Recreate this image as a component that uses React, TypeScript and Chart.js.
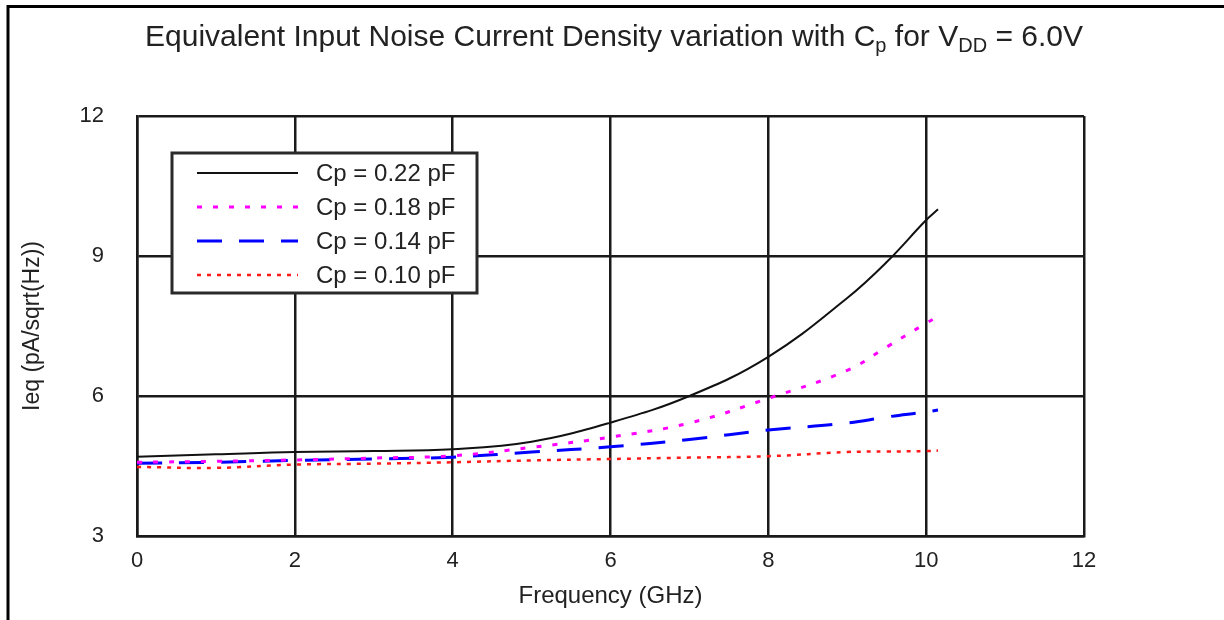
import React, { useEffect, useRef } from "react";
import { Chart, registerables } from "chart.js";

Chart.register(...registerables);

const FONT = "'Liberation Sans', Arial, Helvetica, sans-serif";

// Frequency (GHz) sample points
const freqGHz = [0, 1, 2, 3, 4, 5, 6, 7, 8, 9, 9.5, 10, 10.15];
// Ieq (pA/sqrt(Hz)) for each Cp
const cp022 = [4.7, 4.75, 4.8, 4.82, 4.86, 5.02, 5.43, 6.0, 6.84, 8.1, 8.87, 9.77, 10.0];
const cp018 = [4.58, 4.6, 4.63, 4.67, 4.72, 4.9, 5.12, 5.42, 5.95, 6.55, 7.05, 7.56, 7.7];
const cp014 = [4.56, 4.58, 4.62, 4.65, 4.69, 4.8, 4.91, 5.07, 5.27, 5.42, 5.55, 5.66, 5.7];
const cp010 = [4.48, 4.46, 4.53, 4.55, 4.58, 4.62, 4.65, 4.68, 4.71, 4.8, 4.81, 4.82, 4.83];

const seriesLabels = ["Cp = 0.22 pF", "Cp = 0.18 pF", "Cp = 0.14 pF", "Cp = 0.10 pF"];
const xTicks = [0, 2, 4, 6, 8, 10, 12];
const yTicks = [3, 6, 9, 12];

const toPoints = (ys: number[]) => freqGHz.map((x, i) => ({ x, y: ys[i] }));

const framePlugin = {
  id: "frame",
  beforeDraw(chart: any) {
    const ctx = chart.ctx;
    ctx.save();
    ctx.fillStyle = "#fff";
    ctx.fillRect(0, 0, chart.width, chart.height);
    ctx.strokeStyle = "#000";
    ctx.lineWidth = 3;
    ctx.beginPath();
    ctx.moveTo(8, chart.height + 5);
    ctx.lineTo(8, 6.5);
    ctx.lineTo(chart.width + 5, 6.5);
    ctx.stroke();
    ctx.restore();
  },
};

const titlePlugin = {
  id: "richTitle",
  afterDraw(chart: any) {
    const ctx = chart.ctx;
    const size = 30;
    const sub = 20;
    const parts: [string, boolean][] = [
      ["Equivalent Input Noise Current Density variation with C", false],
      ["p", true],
      [" for V", false],
      ["DD", true],
      [" = 6.0V", false],
    ];
    ctx.save();
    ctx.fillStyle = "#222";
    ctx.textBaseline = "alphabetic";
    ctx.textAlign = "left";
    let total = 0;
    const widths = parts.map(([t, s]) => {
      ctx.font = `${s ? sub : size}px ${FONT}`;
      const w = ctx.measureText(t).width;
      total += w;
      return w;
    });
    let x = 614 - total / 2;
    const base = 46;
    parts.forEach(([t, s], i) => {
      ctx.font = `${s ? sub : size}px ${FONT}`;
      ctx.fillText(t, x, s ? base + 6 : base);
      x += widths[i];
    });
    ctx.restore();
  },
};

const legendPlugin = {
  id: "boxLegend",
  afterDraw(chart: any) {
    const ctx = chart.ctx;
    const bx = 172, by = 153, bw = 305, bh = 140;
    ctx.save();
    ctx.fillStyle = "#fff";
    ctx.fillRect(bx, by, bw, bh);
    ctx.strokeStyle = "#2a2a2a";
    ctx.lineWidth = 3;
    ctx.strokeRect(bx, by, bw, bh);
    chart.data.datasets.forEach((ds: any, i: number) => {
      const y = 173 + i * 34;
      ctx.beginPath();
      ctx.strokeStyle = ds.borderColor;
      ctx.lineWidth = ds.borderWidth;
      ctx.setLineDash(ds.borderDash || []);
      ctx.moveTo(197, y);
      ctx.lineTo(298, y);
      ctx.stroke();
      ctx.setLineDash([]);
      ctx.fillStyle = "#222";
      ctx.font = `24px ${FONT}`;
      ctx.textBaseline = "middle";
      ctx.textAlign = "left";
      ctx.fillText(ds.label, 316, y + 1);
    });
    ctx.restore();
  },
};

export default function App() {
  const ref = useRef<HTMLCanvasElement | null>(null);

  useEffect(() => {
    if (!ref.current) return;
    const chart = new Chart(ref.current, {
      type: "line",
      data: {
        datasets: [
          {
            label: seriesLabels[0],
            data: toPoints(cp022),
            borderColor: "#111111",
            borderWidth: 2,
            borderDash: [],
          },
          {
            label: seriesLabels[1],
            data: toPoints(cp018),
            borderColor: "#ff00ff",
            borderWidth: 3,
            borderDash: [5, 11],
          },
          {
            label: seriesLabels[2],
            data: toPoints(cp014),
            borderColor: "#0000ff",
            borderWidth: 3,
            borderDash: [25, 17],
          },
          {
            label: seriesLabels[3],
            data: toPoints(cp010),
            borderColor: "#ff1a1a",
            borderWidth: 2.5,
            borderDash: [4, 6],
          },
        ] as any,
      },
      options: {
        animation: false,
        responsive: false,
        devicePixelRatio: 1,
        layout: { padding: { top: 116, right: 140, left: 0, bottom: 0 } },
        elements: {
          point: { radius: 0 },
          line: { tension: 0.4, fill: false },
        },
        plugins: {
          legend: { display: false },
          title: { display: false },
          tooltip: { enabled: false },
        },
        scales: {
          x: {
            type: "linear",
            min: 0,
            max: 12,
            afterBuildTicks: (s: any) => {
              s.ticks = xTicks.map((v) => ({ value: v }));
            },
            afterFit: (s: any) => {
              s.height = 84;
            },
            grid: { color: "#1a1a1a", lineWidth: 2.5, drawTicks: false },
            border: { display: true, color: "#1a1a1a", width: 2.5 },
            ticks: {
              padding: 12,
              color: "#222",
              font: { family: FONT, size: 22 },
              maxRotation: 0,
            },
            title: {
              display: true,
              text: "Frequency (GHz)",
              color: "#222",
              font: { family: FONT, size: 24 },
              padding: { top: 0, bottom: 9 },
            },
          },
          y: {
            type: "linear",
            min: 3,
            max: 12,
            afterBuildTicks: (s: any) => {
              s.ticks = yTicks.map((v) => ({ value: v }));
            },
            afterFit: (s: any) => {
              s.width = 137;
            },
            grid: { color: "#1a1a1a", lineWidth: 2.5, drawTicks: false },
            border: { display: true, color: "#1a1a1a", width: 2.5 },
            ticks: {
              padding: 33,
              color: "#222",
              font: { family: FONT, size: 22 },
            },
            title: {
              display: true,
              text: "Ieq (pA/sqrt(Hz))",
              color: "#222",
              font: { family: FONT, size: 23 },
              padding: { top: 19, bottom: 0 },
            },
          },
        },
      } as any,
      plugins: [framePlugin, titlePlugin, legendPlugin],
    });
    return () => chart.destroy();
  }, []);

  return (
    <div style={{ position: "absolute", left: 0, top: 0, width: 1224, height: 620 }}>
      <canvas ref={ref} width={1224} height={620} style={{ display: "block" }} />
    </div>
  );
}
